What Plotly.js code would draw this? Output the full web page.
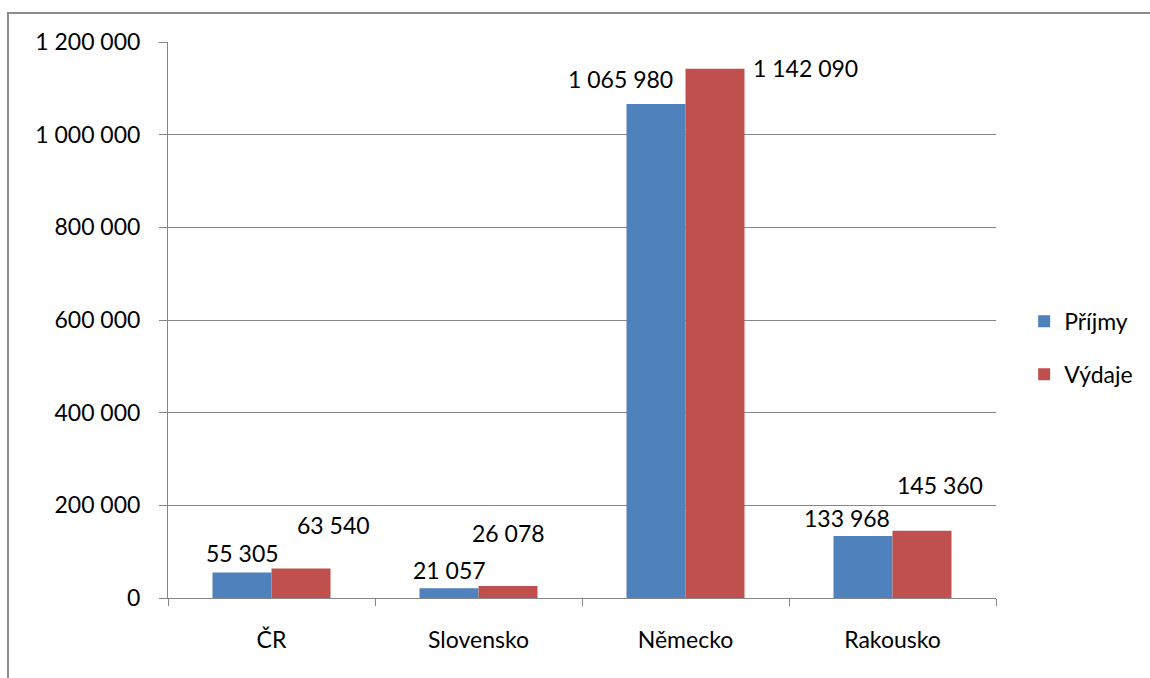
<!DOCTYPE html>
<html><head><meta charset="utf-8">
<script src="https://cdn.plot.ly/plotly-3.0.1.min.js"></script>
<style>
html,body{margin:0;padding:0;width:1150px;height:678px;overflow:hidden;background:#fff;}
#frame{position:absolute;left:7px;top:12px;width:2000px;height:2000px;border:2px solid #8c8c8c;box-sizing:border-box;}
#chart{position:absolute;left:0;top:0;width:1150px;height:678px;}
</style></head>
<body>
<div id="frame"></div>
<div id="chart"></div>
<script>
const categories = ['ČR', 'Slovensko', 'Německo', 'Rakousko'];
const prijmy = [55305, 21057, 1065980, 133968];
const vydaje = [63540, 26078, 1142090, 145360];
const seriesNames = ['Příjmy', 'Výdaje'];

const FONT = 'Lato, "Open Sans", sans-serif';
const fmt = v => String(v).replace(/\B(?=(\d{3})+(?!\d))/g, ' ');

// label offsets (pixels) relative to bar top-centre
const blueShift = [[0, 19], [0, 18], [-36, 25], [-16, 18]];
const redShift  = [[32, 44], [0, 53], [90, 1], [18, 46]];
const half = 29.5;

const annotations = [];
categories.forEach((c, i) => {
  annotations.push({x: c, y: prijmy[i], text: fmt(prijmy[i]), showarrow: false,
    xshift: -half + blueShift[i][0], yshift: blueShift[i][1], yanchor: 'middle', xanchor: 'center',
    font: {family: FONT, size: 23, color: '#000'}});
  annotations.push({x: c, y: vydaje[i], text: fmt(vydaje[i]), showarrow: false,
    xshift: half + redShift[i][0], yshift: redShift[i][1], yanchor: 'middle', xanchor: 'center',
    font: {family: FONT, size: 23, color: '#000'}});
});

const data = [
  {type: 'bar', name: seriesNames[0], x: categories, y: prijmy, legendgroup: 'a',
   marker: {color: '#4F81BD'}, hoverinfo: 'none'},
  {type: 'bar', name: seriesNames[1], x: categories, y: vydaje, legendgroup: 'b',
   marker: {color: '#C0504D'}, hoverinfo: 'none'}
];

const layout = {
  width: 1150, height: 678,
  margin: {l: 168, r: 154, t: 42, b: 80, autoexpand: false},
  paper_bgcolor: 'rgba(0,0,0,0)', plot_bgcolor: 'rgba(0,0,0,0)',
  separators: ', ',
  barmode: 'group', bargap: 0.43, bargroupgap: 0,
  font: {family: FONT, size: 23, color: '#000'},
  xaxis: {
    type: 'category', showgrid: false, showline: true, linecolor: '#868686', linewidth: 1,
    ticks: 'outside', tickson: 'boundaries', ticklen: 7, tickcolor: '#868686',
    ticklabelstandoff: 21, tickfont: {family: FONT, size: 23, color: '#000'}, automargin: false
  },
  yaxis: {
    range: [0, 1200000], dtick: 200000, tick0: 0, tickformat: ',d',
    showgrid: true, gridcolor: '#868686', gridwidth: 1,
    showline: true, linecolor: '#868686', linewidth: 1, zeroline: false,
    ticks: 'outside', ticklen: 8, tickcolor: '#868686',
    ticklabelstandoff: 14, tickfont: {family: FONT, size: 23, color: '#000'}, automargin: false
  },
  showlegend: true,
  legend: {x: 1.034, xanchor: 'left', y: 0.45, yanchor: 'middle', traceorder: 'grouped',
    itemwidth: 30, tracegroupgap: 20, font: {family: FONT, size: 23, color: '#000'}, bgcolor: 'rgba(0,0,0,0)'},
  annotations: annotations
};

Plotly.newPlot('chart', data, layout, {staticPlot: true, displayModeBar: false});
</script>
</body></html>
